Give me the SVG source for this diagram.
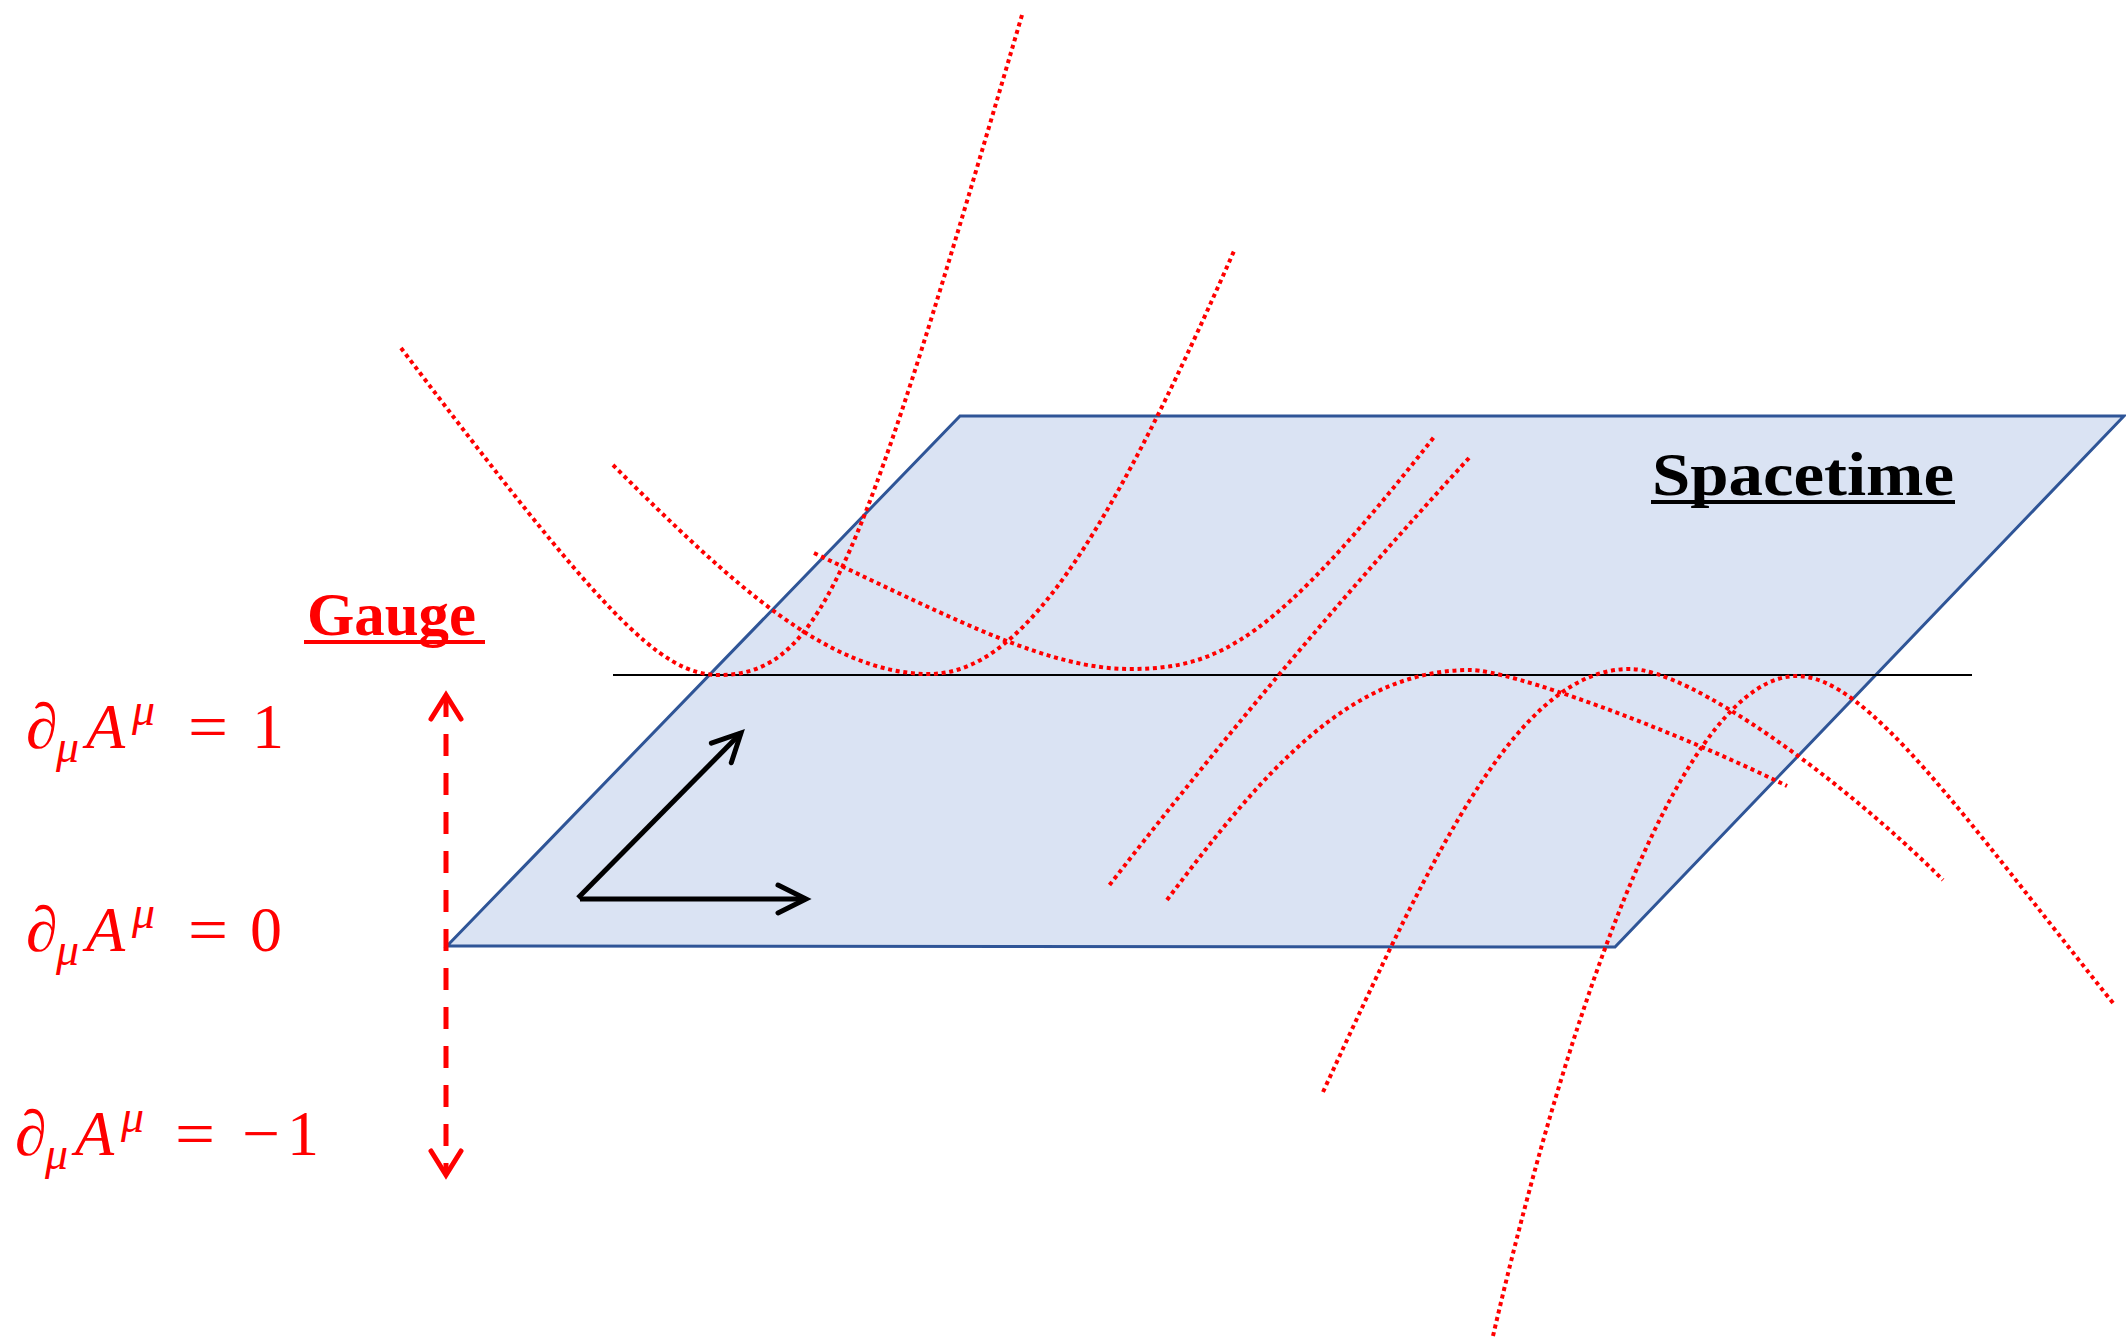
<svg xmlns="http://www.w3.org/2000/svg" width="2126" height="1341" viewBox="0 0 2126 1341">
<style>
.plane{fill:#DAE3F3;stroke:#2F5597;stroke-width:3;stroke-linejoin:miter}
.axis{fill:none;stroke:#000;stroke-width:5}
.dot{fill:none;stroke:#FF0000;stroke-width:4;stroke-dasharray:4 3.7}
.gauge{fill:none;stroke:#FF0000;stroke-width:5;stroke-dasharray:22 17}
.math{font-family:"Liberation Serif","DejaVu Serif",serif;fill:#FF0000}
.it{font-style:italic}
.title{font-family:"Liberation Serif","DejaVu Serif",serif;font-weight:bold}
</style>
<defs>
<marker id="blackHead" markerUnits="userSpaceOnUse" viewBox="-40 -20 45 40" markerWidth="45" markerHeight="40" refX="0" refY="0" orient="auto" overflow="visible">
<path d="M-28,-14 L0,0 L-28,14" fill="none" stroke="#000" stroke-width="5" stroke-linecap="round"/>
</marker>
<marker id="redHead" markerUnits="userSpaceOnUse" viewBox="-40 -20 45 40" markerWidth="45" markerHeight="40" refX="0" refY="0" orient="auto-start-reverse" overflow="visible">
<path d="M-24,-15 L0,0 L-24,15" fill="none" stroke="#FF0000" stroke-width="5" stroke-dasharray="none" stroke-linecap="round"/>
</marker>
</defs>
<rect x="0" y="0" width="2126" height="1341" fill="#FFFFFF"/>

<g id="spacetime-plane">
<polygon class="plane" points="960,416 2124,416 1615,947 447,946"/>
<text class="title" x="1652" y="495" font-size="62" textLength="302" lengthAdjust="spacingAndGlyphs" fill="#000">Spacetime</text>
<rect x="1651" y="500" width="304" height="4" fill="#000"/>
</g>

<g id="gauge-line">
<line x1="613" y1="675" x2="1972" y2="675" stroke="#000" stroke-width="1.8"/>
</g>

<g id="axes">
<line class="axis" x1="578" y1="898" x2="741" y2="733" marker-end="url(#blackHead)"/>
<line class="axis" x1="580" y1="899" x2="806" y2="899" marker-end="url(#blackHead)"/>
</g>

<g id="gauge-orbits">
<path class="dot" d="M401,348 C601,612 659,675 719,675 C825,675 862,560 1022,15"/>
<path class="dot" d="M613,465 C733,585 829,674 929,674 C1019,674 1102,551 1234,251"/>
<path class="dot" d="M814,553 C964,624 1050,669 1130,669 C1220,669 1275,640 1434,437"/>
<path class="dot" d="M1469,458 Q1282,662 1108,887"/>
<path class="dot" d="M1167,900 C1264.5,770 1350,670 1470,670 C1510,670 1667,727 1787,786"/>
<path class="dot" d="M1323,1092 C1438,842 1520,669 1630,669 C1690,669 1843,780 1943,880"/>
<path class="dot" d="M1493,1336 C1574.5,986 1687,676 1797,676 C1867,676 1963,815.5 2113,1003"/>
</g>

<g id="gauge-axis">
<line class="gauge" x1="446" y1="695" x2="446" y2="1175" marker-start="url(#redHead)" marker-end="url(#redHead)"/>
<text class="title" x="307" y="635" font-size="62" textLength="169" lengthAdjust="spacingAndGlyphs" fill="#FF0000">Gauge</text>
<rect x="304" y="640" width="181" height="4" fill="#FF0000"/>
</g>

<g id="label-plus1">
<text class="math" font-size="64"><tspan class="it" x="26" y="748">∂</tspan><tspan class="it" x="56" y="762" font-size="46">μ</tspan><tspan class="it" x="86" y="748">A</tspan><tspan class="it" x="132" y="725" font-size="46">μ</tspan><tspan x="188" y="748" textLength="40" lengthAdjust="spacingAndGlyphs">=</tspan><tspan x="252" y="748">1</tspan></text>
</g>
<g id="label-zero">
<text class="math" font-size="64"><tspan class="it" x="26" y="951">∂</tspan><tspan class="it" x="56" y="965" font-size="46">μ</tspan><tspan class="it" x="86" y="951">A</tspan><tspan class="it" x="132" y="928" font-size="46">μ</tspan><tspan x="188" y="951" textLength="40" lengthAdjust="spacingAndGlyphs">=</tspan><tspan x="250" y="951">0</tspan></text>
</g>
<g id="label-minus1">
<text class="math" font-size="64"><tspan class="it" x="15" y="1155">∂</tspan><tspan class="it" x="45" y="1169" font-size="46">μ</tspan><tspan class="it" x="75" y="1155">A</tspan><tspan class="it" x="121" y="1132" font-size="46">μ</tspan><tspan x="175" y="1155" textLength="40" lengthAdjust="spacingAndGlyphs">=</tspan><tspan x="242" y="1155" textLength="38" lengthAdjust="spacingAndGlyphs">−</tspan><tspan x="287" y="1155">1</tspan></text>
</g>
</svg>
